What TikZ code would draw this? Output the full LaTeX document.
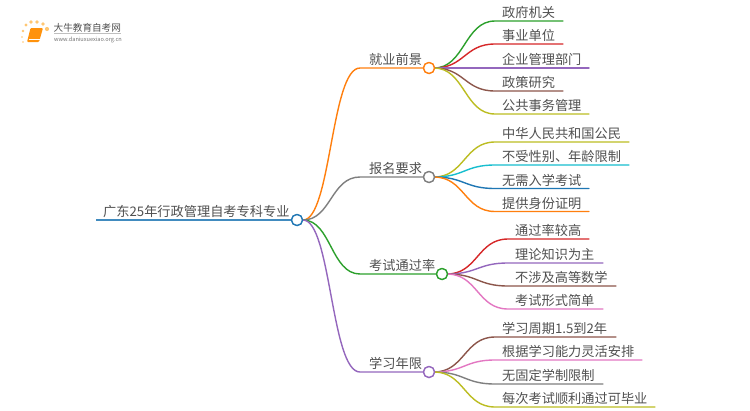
\documentclass[tikz,border=0pt]{standalone}
\usepackage{fontspec}
\setmainfont{Noto Sans CJK SC}
\usetikzlibrary{calc}
\definecolor{cblue}{HTML}{1F77B4}
\definecolor{corange}{HTML}{FF7F0E}
\definecolor{cgreen}{HTML}{2CA02C}
\definecolor{cred}{HTML}{D62728}
\definecolor{cpurple}{HTML}{9467BD}
\definecolor{cbrown}{HTML}{8C564B}
\definecolor{cpink}{HTML}{E377C2}
\definecolor{cgray}{HTML}{7F7F7F}
\definecolor{colive}{HTML}{BCBD22}
\definecolor{ccyan}{HTML}{17BECF}
\definecolor{ctext}{HTML}{505050}
\tikzset{
  lbl/.style={anchor=base west,inner sep=0pt,text=ctext,font=\fontsize{13.2}{14}\selectfont},
  hub/.style={circle,draw=#1,fill=white,line width=1.3pt,minimum size=11pt,inner sep=0pt},
  branch/.style={draw=#1,line width=1.4pt,line cap=round},
}
% \leaflink{hub}{name}{y}{text x}{end x}{colour}{text}
\newcommand{\leaflink}[7]{%
  \coordinate (#2o) at ($(#1.center)+(5,0)$);
  \coordinate (#2s) at (#4-7,#3);
  \coordinate (#2e) at (#5,#3);
  \coordinate (#2m) at ($(#2o)!.5!(#2s)$);
  \node[lbl] (#2) at (#4,#3-3.1) {#7};
  \draw[branch=#6] (#2o) .. controls (#2m |- #2o) and (#2m |- #2s) .. (#2s) -- (#2e);
}
\begin{document}
\begin{tikzpicture}[x=1pt,y=-1pt]
\useasboundingbox (0,0) rectangle (750,410);
\fill[white] (0,0) rectangle (750,410);
% logo
\fill[orange!80!yellow,opacity=.55] (22,37) circle (.9) (23,31) circle (1.3) (26,25) circle (1.6) (31,22) circle (1.8) (37,22) circle (1.8) (43,24) circle (1.8) (47,29) circle (2.1) (23,42) circle (.8);
\fill[corange!85!yellow,rounded corners=1pt] (30.5,28) -- (43,28) -- (39,42) -- (27,42) -- cycle;
\draw[white,line width=.5pt] (29,39) -- (39.5,39);
\node[inner sep=0pt,text=ctext,font=\fontsize{9.6}{10}\selectfont,anchor=base west] (logotitle) at (53.5,31) {大牛教育自考网};
\draw[black!25,line width=.5pt] (54,33.5) -- (121,33.5);
\node[inner sep=0pt,text=black!55,font=\fontsize{5.6}{6}\selectfont,anchor=base west] (logourl) at (54,41) {www.daniuxuexiao.org.cn};
% root
\node[lbl] (roottext) at (103,216.9) {广东25年行政管理自考专科专业};
\coordinate (rootstart) at (96,220);
\node[hub=cblue] (root) at (297,220) {};
% hubs
\coordinate (s1) at (360,68);
\coordinate (s2) at (360,177);
\coordinate (s3) at (360,274);
\coordinate (s4) at (360,372);
\coordinate (r0) at (303,220);
\draw[branch=corange] (r0) .. controls (331,220) and (331,68) .. (s1) -- (423,68);
\draw[branch=cgray] (r0) .. controls (331,220) and (331,177) .. (s2) -- (423,177);
\draw[branch=cgreen] (r0) .. controls (331,220) and (331,274) .. (s3) -- (436,274);
\draw[branch=cpurple] (r0) .. controls (331,220) and (331,372) .. (s4) -- (423,372);
\draw[cblue!85,line width=2pt] (rootstart) -- (root.west);
\node[hub=cblue] at (root) {};
\node[lbl] (t1) at (369,64.9) {就业前景};
\node[lbl] (t2) at (369,173.9) {报名要求};
\node[lbl] (t3) at (369,270.9) {考试通过率};
\node[lbl] (t4) at (369,368.9) {学习年限};
\node[hub=corange] (h1) at (429,68) {};
\node[hub=cgray] (h2) at (429,177) {};
\node[hub=cgreen] (h3) at (442,274) {};
\node[hub=cpurple] (h4) at (429,372) {};
% leaves
\leaflink{h1}{a1}{21}{502}{563}{cgreen}{政府机关}
\leaflink{h1}{a2}{44}{502}{563}{cred}{事业单位}
\leaflink{h1}{a3}{68}{502}{589}{cpurple}{企业管理部门}
\leaflink{h1}{a4}{91}{502}{563}{cbrown}{政策研究}
\leaflink{h1}{a5}{114}{502}{589}{colive}{公共事务管理}
\leaflink{h2}{b1}{142}{502}{629}{colive}{中华人民共和国公民}
\leaflink{h2}{b2}{165}{502}{629}{ccyan}{不受性别、年龄限制}
\leaflink{h2}{b3}{188.5}{502}{589}{cblue}{无需入学考试}
\leaflink{h2}{b4}{211.5}{502}{589}{corange}{提供身份证明}
\leaflink{h3}{c1}{239}{515}{589}{cred}{通过率较高}
\leaflink{h3}{c2}{263}{515}{603}{cpurple}{理论知识为主}
\leaflink{h3}{c3}{286}{515}{616}{cbrown}{不涉及高等数学}
\leaflink{h3}{c4}{309}{515}{603}{cpink}{考试形式简单}
\leaflink{h4}{d1}{337}{502}{616}{cbrown}{学习周期1.5到2年}
\leaflink{h4}{d2}{360}{502}{642}{cpink}{根据学习能力灵活安排}
\leaflink{h4}{d3}{384}{502}{603}{cgray}{无固定学制限制}
\leaflink{h4}{d4}{407}{502}{655}{colive}{每次考试顺利通过可毕业}
% redraw hubs above the links
\node[hub=corange] at (h1) {};
\node[hub=cgray] at (h2) {};
\node[hub=cgreen] at (h3) {};
\node[hub=cpurple] at (h4) {};
\end{tikzpicture}
\end{document}
